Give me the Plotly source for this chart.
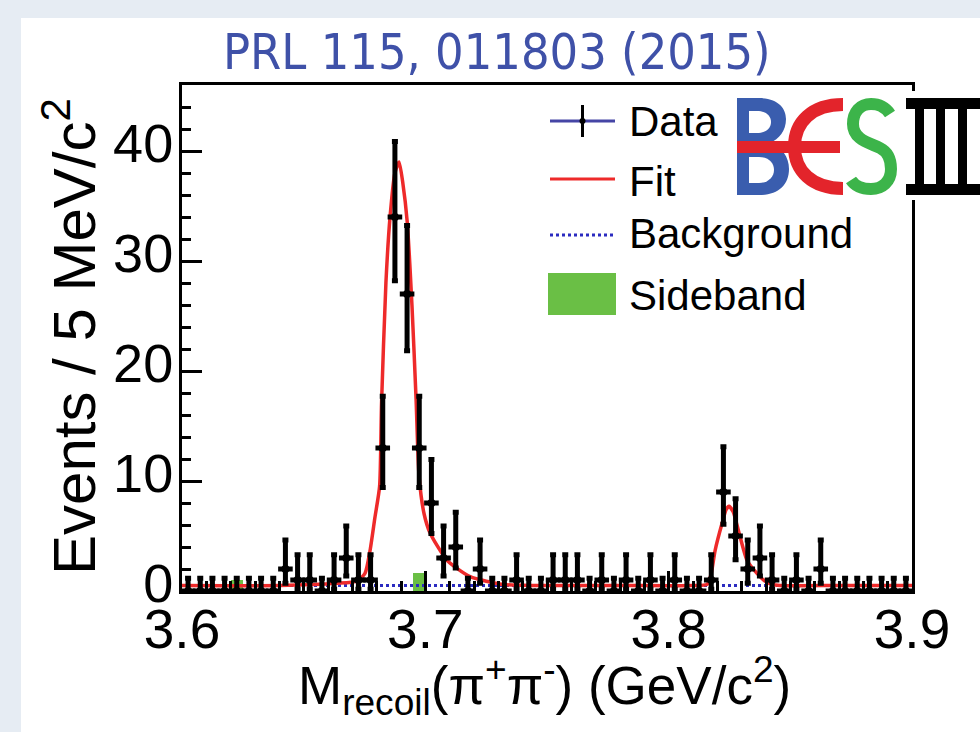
import plotly.graph_objects as go

# ---------------- data ----------------
bin_centers = [round(3.6025 + 0.005 * k, 4) for k in range(60)]
counts = [0, 0, 0, 0, 0, 0, 0, 0, 2, 1,
          1, 0, 1, 3, 1, 1, 13, 34, 27, 13,
          8, 3, 4, 0, 2, 0, 0, 1, 0, 0,
          1, 1, 1, 0, 1, 0, 1, 0, 1, 0,
          1, 0, 0, 1, 9, 5, 2, 3, 1, 0,
          1, 0, 2, 0, 0, 0, 0, 0, 0, 0]
# Poisson (Garwood 68%) interval half-widths: n -> (down, up)
poisson_err = {0: (0.0, 1.15), 1: (0.83, 2.30), 2: (1.29, 2.64), 3: (1.63, 2.92),
               4: (1.91, 3.16), 5: (2.16, 3.38), 8: (2.77, 3.95), 9: (2.94, 4.11),
               13: (3.58, 4.70), 27: (5.16, 6.23), 34: (5.79, 6.86)}
sideband = [0.0] * 60
sideband[4] = 1.0
sideband[19] = 1.6

fit_x = [3.600, 3.640, 3.6637, 3.6719, 3.6752, 3.6773, 3.6793, 3.6812, 3.6820, 3.6838,
         3.6855, 3.6875, 3.6892, 3.6908, 3.6925, 3.6945, 3.6962, 3.6974, 3.6995, 3.7019,
         3.7089, 3.7184, 3.7319, 3.745, 3.780, 3.8100, 3.8158, 3.8174, 3.8191, 3.8220,
         3.8236, 3.8248, 3.8265, 3.8289, 3.8322, 3.8363, 3.8396, 3.8425, 3.8458, 3.870, 3.900]
fit_y = [0.5, 0.5, 0.7, 0.9, 1.6, 3.7, 6.7, 9.5, 17.0, 28.0,
         34.0, 38.0, 39.0, 37.0, 33.7, 26.0, 17.4, 10.5, 7.0, 5.3,
         2.8, 1.3, 0.6, 0.5, 0.5, 0.5, 0.6, 1.5, 3.7, 6.2,
         7.4, 7.7, 7.2, 5.3, 2.8, 1.6, 0.9, 0.6, 0.5, 0.5, 0.5]
bkg_x = [3.6, 3.9]
bkg_y = [0.5, 0.5]

x_ticks = [3.6, 3.7, 3.8, 3.9]
y_ticks = [0, 10, 20, 30, 40]
legend_labels = ["Data", "Fit", "Background", "Sideband"]

err_up = [poisson_err[n][1] for n in counts]
err_dn = [poisson_err[n][0] for n in counts]

# ---------------- geometry helpers (pixel -> paper) ----------------
L, R, T, B = 182, 912, 85, 591
W, H = R - L, B - T


def px(x):
    return (x - L) / W


def py(y):
    return (B - y) / H


def path(*segs):
    out = []
    for seg in segs:
        cmd = seg[0]
        pts = seg[1:]
        if cmd == "Z":
            out.append("Z")
        else:
            out.append(cmd + " " + " ".join(f"{px(a):.5f},{py(b):.5f}" for a, b in pts))
    return " ".join(out)


FONT = "Liberation Sans, Arial, Helvetica, sans-serif"
BLUE_LOGO = "#3A5DAE"
RED_LOGO = "#E3242B"
GREEN_LOGO = "#3CB44A"
SB_GREEN = "#6ABF45"

fig = go.Figure()

fig.add_trace(go.Bar(x=bin_centers, y=sideband, width=0.005,
                     marker=dict(color=SB_GREEN, line=dict(width=0)),
                     showlegend=False))
fig.add_trace(go.Scatter(x=bkg_x, y=bkg_y, mode="lines",
                         line=dict(color="#2B2BC0", width=3, dash="dot"),
                         showlegend=False))
fig.add_trace(go.Scatter(x=fit_x, y=fit_y, mode="lines",
                         line=dict(color="#EE2A2A", width=3.5, shape="spline", smoothing=0.6),
                         showlegend=False))
fig.add_trace(go.Scatter(x=bin_centers, y=counts, mode="markers",
                         marker=dict(color="black", size=8),
                         error_y=dict(type="data", symmetric=False, array=err_up,
                                      arrayminus=err_dn, color="black", thickness=5, width=3),
                         error_x=dict(type="constant", value=0.003, color="black",
                                      thickness=5, width=0),
                         showlegend=False))

shapes = []
# white panel
shapes.append(dict(type="rect", xref="paper", yref="paper", layer="below",
                   x0=px(21), x1=px(985), y0=py(18), y1=py(740),
                   fillcolor="white", line=dict(width=0)))

# legend
shapes.append(dict(type="line", xref="paper", yref="paper", x0=px(550), x1=px(615),
                   y0=py(121), y1=py(121), line=dict(color="#4545A5", width=3)))
shapes.append(dict(type="line", xref="paper", yref="paper", x0=px(582.5), x1=px(582.5),
                   y0=py(105), y1=py(137), line=dict(color="black", width=3)))
shapes.append(dict(type="circle", xref="paper", yref="paper", x0=px(579.5), x1=px(585.5),
                   y0=py(118), y1=py(124), fillcolor="black", line=dict(width=0)))
shapes.append(dict(type="line", xref="paper", yref="paper", x0=px(550), x1=px(615),
                   y0=py(179), y1=py(179), line=dict(color="#EE2A2A", width=3)))
shapes.append(dict(type="line", xref="paper", yref="paper", x0=px(550), x1=px(615),
                   y0=py(235), y1=py(235), line=dict(color="#2B2BC0", width=3, dash="dot")))
shapes.append(dict(type="rect", xref="paper", yref="paper", x0=px(548), x1=px(616),
                   y0=py(273), y1=py(315), fillcolor=SB_GREEN, line=dict(width=0)))

# BESIII logo
shapes.append(dict(type="rect", xref="paper", yref="paper", layer="above",
                   x0=px(728), x1=px(985), y0=py(91), y1=py(200),
                   fillcolor="white", line=dict(width=0)))
shapes.append(dict(type="path", xref="paper", yref="paper", layer="above",
                   path=path(("M", (737, 98)), ("L", (758, 98)),
                             ("C", (778, 98), (786, 108), (786, 119)),
                             ("C", (786, 131), (779, 139), (770, 143)),
                             ("C", (782, 147), (789, 157), (789, 169)),
                             ("C", (789, 185), (778, 195), (760, 195)),
                             ("L", (737, 195)), ("Z",)),
                   fillcolor=BLUE_LOGO, line=dict(width=0)))
shapes.append(dict(type="path", xref="paper", yref="paper", layer="above",
                   path=path(("M", (749, 111)), ("L", (757, 111)),
                             ("C", (766, 111), (771, 116), (771, 122)),
                             ("C", (771, 129), (765, 133), (757, 133)),
                             ("L", (749, 133)), ("Z",)),
                   fillcolor="white", line=dict(width=0)))
shapes.append(dict(type="path", xref="paper", yref="paper", layer="above",
                   path=path(("M", (749, 157)), ("L", (759, 157)),
                             ("C", (769, 157), (774, 163), (774, 170)),
                             ("C", (774, 177), (768, 183), (759, 183)),
                             ("L", (749, 183)), ("Z",)),
                   fillcolor="white", line=dict(width=0)))
shapes.append(dict(type="path", xref="paper", yref="paper", layer="above",
                   path=path(("M", (843, 104.5)),
                             ("C", (812, 104.5), (794.5, 122), (794.5, 146.5)),
                             ("C", (794.5, 171), (812, 188.5), (843, 188.5))),
                   line=dict(color=RED_LOGO, width=13)))
shapes.append(dict(type="rect", xref="paper", yref="paper", layer="above",
                   x0=px(737), x1=px(840), y0=py(141), y1=py(153),
                   fillcolor=RED_LOGO, line=dict(width=0)))
shapes.append(dict(type="path", xref="paper", yref="paper", layer="above",
                   path=path(("M", (890, 114)),
                             ("C", (884, 105), (877, 104), (871, 104)),
                             ("C", (860, 104), (853, 112), (853, 124)),
                             ("C", (853, 140), (870, 143), (880, 148)),
                             ("C", (888, 152), (891, 160), (891, 169)),
                             ("C", (891, 182), (882, 189), (871, 189)),
                             ("C", (862, 189), (855, 186), (851, 180))),
                   line=dict(color=GREEN_LOGO, width=12)))
for (x0, x1, y0, y1) in [(906, 985, 98, 109), (906, 985, 184, 195),
                         (915, 924, 109, 184), (936, 945, 109, 184), (958, 967, 109, 184)]:
    shapes.append(dict(type="rect", xref="paper", yref="paper", layer="above",
                       x0=px(x0), x1=px(x1), y0=py(y0), y1=py(y1),
                       fillcolor="black", line=dict(width=0)))

annotations = []
annotations.append(dict(text="PRL 115, 011803 (2015)", xref="paper", yref="paper",
                        x=px(497), y=py(52), xanchor="center", yanchor="middle",
                        showarrow=False,
                        font=dict(family="Liberation Sans Narrow, DejaVu Sans Condensed, sans-serif",
                                  size=50, color="#3F51A8")))
leg_y = [121, 181, 234, 295]
for lab, yy in zip(legend_labels, leg_y):
    annotations.append(dict(text=lab, xref="paper", yref="paper", x=px(627), y=py(yy),
                            xanchor="left", yanchor="middle", showarrow=False,
                            font=dict(family=FONT, size=42, color="black")))
annotations.append(dict(text="Events / 5 MeV/c<sup>2</sup>", xref="paper", yref="paper",
                        x=px(70), y=py(337), xanchor="center", yanchor="middle",
                        textangle=-90, showarrow=False,
                        font=dict(family=FONT, size=60, color="black")))
annotations.append(dict(text="M<sub>recoil</sub>(π<sup>+</sup>π<sup>-</sup>) (GeV/c<sup>2</sup>)",
                        xref="paper", yref="paper", x=px(544), y=py(685),
                        xanchor="center", yanchor="middle", showarrow=False,
                        font=dict(family=FONT, size=53, color="black")))

fig.update_layout(
    width=980, height=732,
    margin=dict(l=L, r=980 - R, t=T, b=732 - B, pad=0),
    paper_bgcolor="#E6ECF3", plot_bgcolor="white",
    showlegend=False, bargap=0,
    shapes=shapes, annotations=annotations,
    xaxis=dict(range=[3.6, 3.9], tickvals=x_ticks, ticktext=[f"{v:.1f}" for v in x_ticks],
               ticks="inside", ticklen=20, tickwidth=3, tickcolor="black",
               minor=dict(ticks="inside", ticklen=10, tickwidth=3, dtick=0.01, tick0=3.6,
                          tickcolor="black"),
               showline=True, linewidth=3, linecolor="black", mirror=True,
               showgrid=False, zeroline=False, ticklabelstandoff=-12,
               tickfont=dict(family=FONT, size=55, color="black")),
    yaxis=dict(range=[0, 46], tickvals=y_ticks,
               ticks="inside", ticklen=20, tickwidth=3, tickcolor="black",
               minor=dict(ticks="inside", ticklen=9, tickwidth=3, dtick=2, tick0=0,
                          tickcolor="black"),
               showline=True, linewidth=3, linecolor="black", mirror=True,
               showgrid=False, zeroline=False, ticklabelstandoff=-5, ticklabelshift=-8,
               tickfont=dict(family=FONT, size=54, color="black")),
)

fig.write_html("out.html")
